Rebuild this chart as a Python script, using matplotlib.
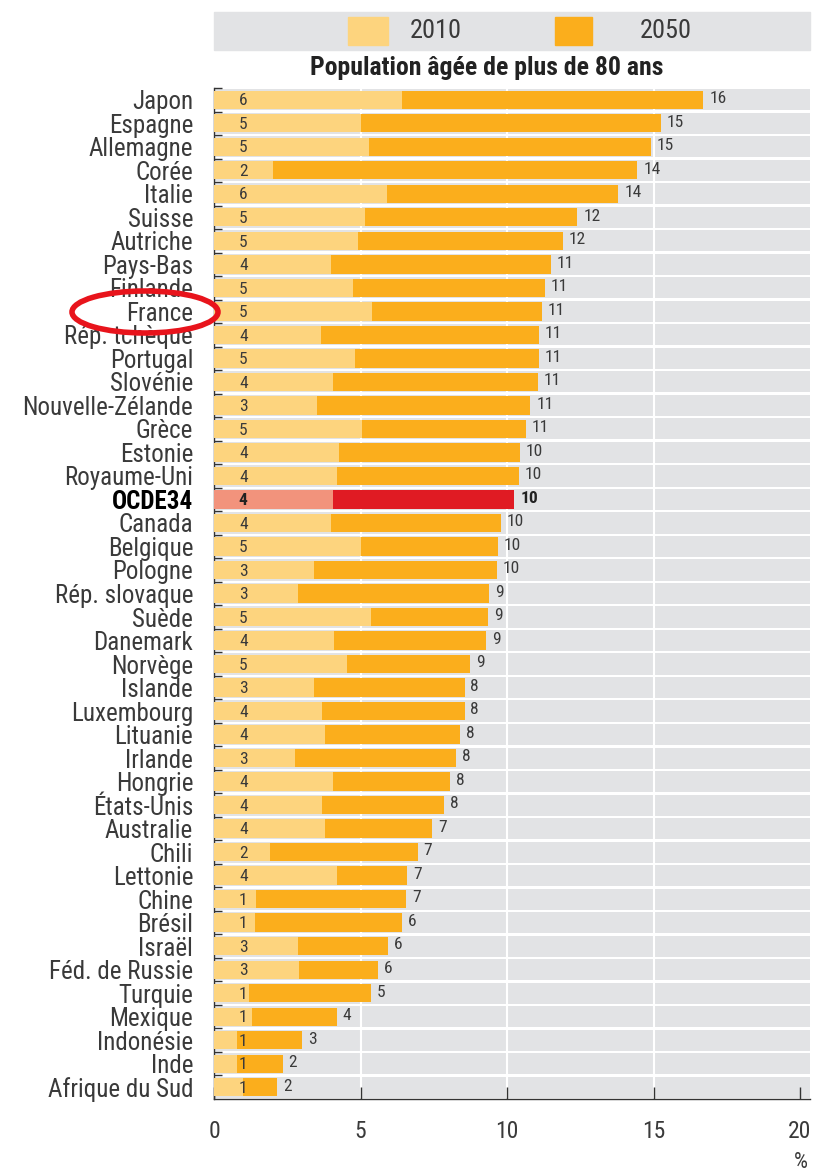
import matplotlib
matplotlib.use("Agg")
import matplotlib.pyplot as plt
from matplotlib.patches import Ellipse, Rectangle

countries = ["Japon", "Espagne", "Allemagne", "Corée", "Italie", "Suisse", "Autriche",
             "Pays-Bas", "Finlande", "France", "Rép. tchèque", "Portugal", "Slovénie",
             "Nouvelle-Zélande", "Grèce", "Estonie", "Royaume-Uni", "OCDE34", "Canada",
             "Belgique", "Pologne", "Rép. slovaque", "Suède", "Danemark", "Norvège",
             "Islande", "Luxembourg", "Lituanie", "Irlande", "Hongrie", "États-Unis",
             "Australie", "Chili", "Lettonie", "Chine", "Brésil", "Israël",
             "Féd. de Russie", "Turquie", "Mexique", "Indonésie", "Inde", "Afrique du Sud"]
v2010 = [6.4, 5.0, 5.3, 2.0, 5.9, 5.15, 4.9, 4.0, 4.75, 5.4, 3.65, 4.8, 4.05, 3.5, 5.05,
         4.25, 4.2, 4.05, 4.0, 5.0, 3.4, 2.85, 5.35, 4.1, 4.55, 3.4, 3.7, 3.8, 2.75, 4.05,
         3.7, 3.8, 1.9, 4.2, 1.45, 1.4, 2.85, 2.9, 1.2, 1.3, 0.8, 0.8, 1.0]
v2050 = [16.7, 15.25, 14.9, 14.45, 13.8, 12.4, 11.9, 11.5, 11.3, 11.2, 11.1, 11.1, 11.05,
         10.8, 10.65, 10.45, 10.4, 10.25, 9.8, 9.7, 9.65, 9.4, 9.35, 9.3, 8.75, 8.55, 8.55,
         8.4, 8.25, 8.05, 7.85, 7.45, 6.95, 6.6, 6.55, 6.4, 5.95, 5.6, 5.35, 4.2, 3.0,
         2.35, 2.15]
lab2010 = [6, 5, 5, 2, 6, 5, 5, 4, 5, 5, 4, 5, 4, 3, 5, 4, 4, 4, 4, 5, 3, 3, 5, 4, 5, 3,
           4, 4, 3, 4, 4, 4, 2, 4, 1, 1, 3, 3, 1, 1, 1, 1, 1]
lab2050 = [16, 15, 15, 14, 14, 12, 12, 11, 11, 11, 11, 11, 11, 11, 11, 10, 10, 10, 10, 10,
           10, 9, 9, 9, 9, 8, 8, 8, 8, 8, 8, 7, 7, 7, 7, 6, 6, 6, 5, 4, 3, 2, 2]
xticks = [0, 5, 10, 15, 20]
legend_labels = ["2010", "2050"]
title = "Population âgée de plus de 80 ans"

FONT = ["Liberation Sans Narrow", "Roboto Condensed", "DejaVu Sans"]
plt.rcParams["font.family"] = FONT
plt.rcParams["font.stretch"] = "condensed"

C_LIGHT = "#fdd47e"
C_DARK = "#fbae1c"
C_OECD_LIGHT = "#f2937c"
C_OECD_DARK = "#e01b23"
C_BG = "#e2e3e5"
C_TXT = "#3a3a3a"

W, H = 816, 1173
fig = plt.figure(figsize=(W / 100, H / 100), dpi=100)
ax_l, ax_r, ax_t, ax_b = 214, 810, 88, 1099
ax = fig.add_axes([ax_l / W, 1 - ax_b / H, (ax_r - ax_l) / W, (ax_b - ax_t) / H])
xmax = (ax_r - ax_l) / 29.3
ax.set_xlim(0, xmax)
n = len(countries)
ax.set_ylim(n - 0.5, -0.5)
ys = list(range(n))

# row background bands
ax.barh(ys, [xmax] * n, left=0, height=0.9, color=C_BG, zorder=0)
for xv in [5, 10, 15]:
    ax.axvline(xv, color="white", lw=1.5, zorder=1)

for i, c in enumerate(countries):
    oecd = c == "OCDE34"
    ax.barh(i, v2050[i], height=0.78, color=C_OECD_DARK if oecd else C_DARK, zorder=2)
    ax.barh(i, v2010[i], height=0.78, color=C_OECD_LIGHT if oecd else C_LIGHT, zorder=3)
    ax.text(1.0, i + 0.05, str(lab2010[i]), ha="center", va="center", fontsize=12.5,
            color="#222" if oecd else C_TXT, fontweight="bold" if oecd else "normal", zorder=4)
    ax.text(v2050[i] + 0.2, i - 0.05, str(lab2050[i]), ha="left", va="center", fontsize=12.5,
            color="#222" if oecd else C_TXT, fontweight="bold" if oecd else "normal", zorder=4)

ax.set_yticks(ys)
ax.set_yticklabels(countries, fontsize=18, color=C_TXT)
for lbl in ax.get_yticklabels():
    if lbl.get_text() == "OCDE34":
        lbl.set_fontweight("bold")
        lbl.set_color("black")
ax.tick_params(axis="y", which="major", length=0, pad=15)
ax.set_yticks([i - 0.5 for i in range(n)], minor=True)
ax.tick_params(axis="y", which="minor", direction="in", length=6, width=1, color="#333")

ax.set_xticks(xticks)
ax.set_xticklabels([str(t) for t in xticks], fontsize=17, color=C_TXT)
ax.tick_params(axis="x", direction="in", length=9, width=1, color="#333", pad=15)

for s in ["top", "right"]:
    ax.spines[s].set_visible(False)
for s in ["left", "bottom"]:
    ax.spines[s].set_color("#333")
    ax.spines[s].set_linewidth(1)
ax.set_facecolor("white")

# % unit
fig.text(801 / W, 1 - 1163 / H, "%", ha="center", va="center", fontsize=16, color=C_TXT)

# legend box
fig.patches.append(Rectangle((214 / W, 1 - 50 / H), (810 - 214) / W, 38 / H,
                             transform=fig.transFigure, color=C_BG, zorder=0))
for (x0, x1, tx), lab, col in zip([(348, 388, 436), (555, 592, 666)], legend_labels,
                                  [C_LIGHT, C_DARK]):
    fig.patches.append(Rectangle((x0 / W, 1 - 45 / H), (x1 - x0) / W, 28 / H,
                                 transform=fig.transFigure, color=col, zorder=1))
    fig.text(tx / W, 1 - 31 / H, lab, ha="center", va="center", fontsize=19, color=C_TXT)

fig.text(487 / W, 1 - 68 / H, title, ha="center", va="center", fontsize=18.5,
         fontweight="bold", color="#222")

# red ellipse highlight around France
fig.patches.append(Ellipse((145 / W, 1 - 312 / H), 146 / W, 42 / H, transform=fig.transFigure,
                           fill=False, edgecolor="#e8141c", linewidth=4, zorder=5))

fig.savefig("out.png", dpi=100)
